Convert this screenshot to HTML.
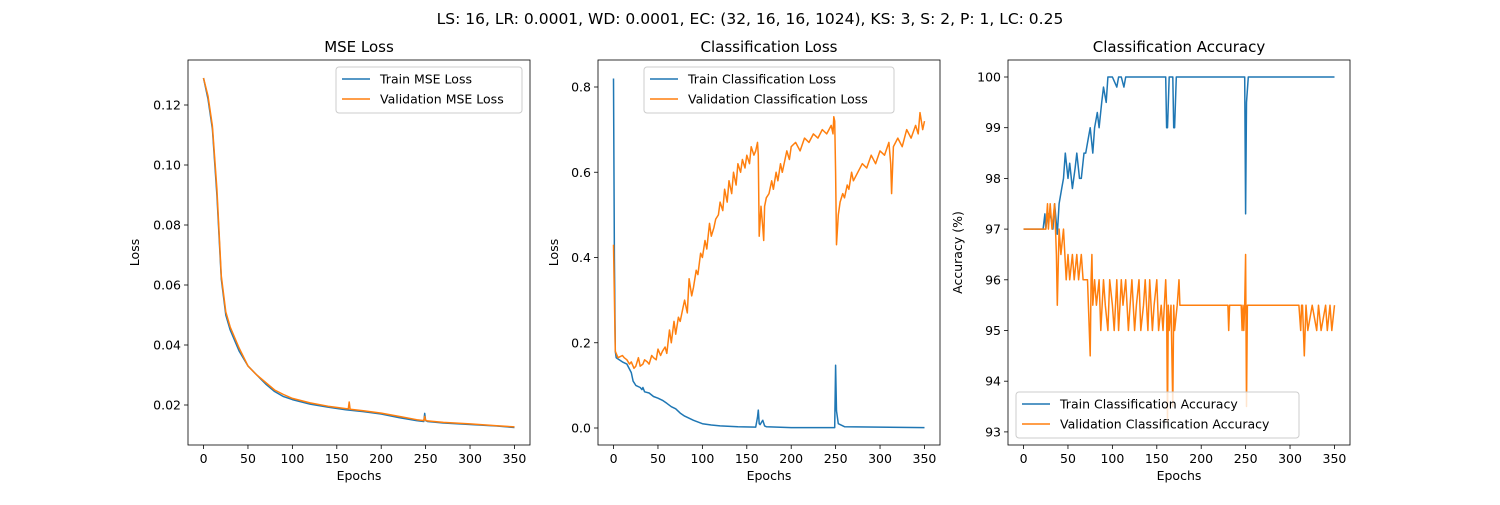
<!DOCTYPE html>
<html><head><meta charset="utf-8"><style>
body{margin:0;background:#fff;}
svg text{font-family:"DejaVu Sans","Liberation Sans",sans-serif;fill:#000;}
</style></head><body>
<svg id="c" width="1500" height="500" viewBox="0 0 1500 500">
<rect width="1500" height="500" fill="#fff"/>
<text x="750" y="24" font-size="15.5" text-anchor="middle">LS: 16, LR: 0.0001, WD: 0.0001, EC: (32, 16, 16, 1024), KS: 3, S: 2, P: 1, LC: 0.25</text>
</svg>
<script>
// MSE loss
const mseTrainEp=[0,5,10,15,20,25,30,40,50,60,70,80,90,100,120,140,160,180,200,220,240,248,249,250,252,270,300,330,350];
const mseTrain=[0.129,0.122,0.112,0.09,0.062,0.05,0.045,0.038,0.033,0.030,0.027,0.0245,0.0228,0.0218,0.0203,0.0193,0.0184,0.0178,0.0170,0.0158,0.0148,0.0145,0.0172,0.0148,0.0145,0.0140,0.0135,0.0130,0.0125];
const mseValEp=[0,5,10,15,20,25,30,40,50,60,70,80,90,100,120,140,160,163,164,165,180,200,220,240,248,249,250,252,270,300,330,350];
const mseVal=[0.129,0.123,0.113,0.092,0.063,0.051,0.046,0.039,0.033,0.030,0.0275,0.025,0.0235,0.0222,0.0207,0.0196,0.0188,0.0187,0.021,0.0186,0.0181,0.0173,0.0162,0.0151,0.0148,0.0162,0.0149,0.0147,0.0142,0.0137,0.0131,0.0127];
// classification loss
const clsTrainEp=[0,1,2,3,10,15,20,22,25,30,32,33,35,40,45,50,55,60,65,70,75,80,90,100,110,120,140,160,162,163,164,165,167,168,170,172,200,249,250,251,253,260,350];
const clsTrain=[0.82,0.4,0.18,0.165,0.155,0.15,0.13,0.11,0.1,0.095,0.09,0.095,0.085,0.082,0.074,0.07,0.065,0.058,0.05,0.045,0.035,0.028,0.018,0.01,0.007,0.005,0.003,0.002,0.025,0.042,0.01,0.008,0.015,0.018,0.005,0.003,0.001,0.001,0.147,0.04,0.01,0.003,0.001];
const clsValEp=[0,2,5,10,12,15,18,20,23,25,28,30,33,35,38,40,43,45,48,50,53,55,58,60,63,65,68,70,73,75,78,80,83,85,88,90,93,95,98,100,103,105,108,110,113,115,118,120,123,125,128,130,133,135,138,140,143,145,148,150,153,155,158,160,162,163,164,166,168,169,170,172,175,178,180,183,185,188,190,193,195,198,200,205,210,215,220,225,230,235,240,245,247,248,249,250,251,253,255,258,260,263,265,268,270,275,280,285,290,295,300,305,310,312,313,315,320,325,330,335,340,343,345,348,350];
const clsVal=[0.43,0.18,0.165,0.17,0.165,0.16,0.15,0.155,0.14,0.145,0.165,0.145,0.15,0.16,0.155,0.15,0.17,0.165,0.16,0.185,0.17,0.18,0.19,0.175,0.23,0.2,0.25,0.22,0.26,0.25,0.28,0.3,0.27,0.35,0.31,0.33,0.37,0.36,0.41,0.4,0.44,0.42,0.48,0.45,0.47,0.49,0.5,0.53,0.51,0.56,0.53,0.58,0.55,0.6,0.57,0.62,0.6,0.63,0.61,0.64,0.62,0.66,0.64,0.65,0.67,0.64,0.45,0.52,0.47,0.44,0.52,0.54,0.55,0.58,0.56,0.6,0.58,0.62,0.6,0.63,0.65,0.63,0.66,0.67,0.65,0.68,0.67,0.69,0.68,0.7,0.69,0.71,0.69,0.73,0.72,0.6,0.43,0.5,0.53,0.55,0.54,0.57,0.56,0.6,0.58,0.6,0.62,0.61,0.64,0.62,0.65,0.64,0.67,0.62,0.55,0.66,0.68,0.66,0.7,0.68,0.71,0.69,0.74,0.7,0.72];
// accuracy
const accTrainEp=[0,20,22,24,25,27,30,33,35,38,40,43,45,47,50,52,55,58,60,63,65,68,70,73,75,78,80,83,85,88,90,93,95,100,105,107,110,113,115,120,160,161,162,164,168,169,170,172,249,250,251,253,350];
const accTrain=[97,97,97,97.3,97,97.3,97.3,97,97.5,96.9,97.5,97.8,98,98.5,98,98.3,97.8,98.2,98.5,98,98,98.5,98.5,98.8,99,98.5,99,99.3,99,99.5,99.8,99.5,100,100,99.8,100,100,99.8,100,100,100,99,99,100,100,99,99,100,100,97.3,99.5,100,100];
const accValEp=[0,25,27,28,30,32,35,37,38,40,42,45,48,50,52,55,57,60,62,65,67,70,72,75,76,77,78,80,82,85,87,90,92,95,97,100,102,105,107,110,112,115,118,120,122,125,127,130,132,135,137,140,142,145,147,150,152,155,157,160,161,162,163,164,166,168,169,170,173,175,176,178,230,231,232,235,245,246,247,248,249,250,251,252,253,310,312,313,314,316,318,320,325,330,332,335,340,342,345,347,350];
const accVal=[97,97,97.5,97,97.5,97,97.5,96.5,95.5,97,96.5,97,96,96.5,96,96.5,96,96.5,96,96.5,96,96,96,94.5,96,96.5,95.5,96,95.5,96,95,96,95.5,95,96,95.5,95,96,95,96,95.5,96,95,95.5,96,95,95.5,96,95,95.5,96,95,96,95,95.5,96,95,95.5,95,96,95.5,93.2,95.5,95,95.5,93.5,95.5,95,95.5,96,95.5,95.5,95.5,95,95.5,95.5,95.5,95,95.5,95,95.5,96.5,93.5,95.5,95.5,95.5,95,95.5,95.5,94.5,95.5,95,95.5,95,95.5,95,95.5,95,95.5,95,95.5];
const xTicks=[0,50,100,150,200,250,300,350];
const y1Ticks=["0.02","0.04","0.06","0.08","0.10","0.12"];
const y2Ticks=["0.0","0.2","0.4","0.6","0.8"];
const y3Ticks=["93","94","95","96","97","98","99","100"];

const NS="http://www.w3.org/2000/svg";
const svg=document.getElementById('c');
function mk(tag,attrs,parent){const e=document.createElementNS(NS,tag);for(const k in attrs)e.setAttribute(k,attrs[k]);(parent||svg).appendChild(e);return e;}
function txt(s,x,y,attrs){const e=mk('text',Object.assign({x:x,y:y,'font-size':12.5},attrs||{}));e.textContent=s;return e;}

function panel(p){
  const g=mk('g',{});
  
  
  const L=p.left,R=p.left+342,T=60,B=445;
  const xs=v=>L+(v+17.5)*(342/385);
  const ys=v=>B-(v-p.ymin)/(p.ymax-p.ymin)*(B-T);
  const t=txt(p.title,(L+R)/2,52,{'font-size':15,'text-anchor':'middle'});
  
  
  xTicks.forEach(v=>{
    const x=xs(v);mk('line',{x1:x,x2:x,y1:B,y2:B+4,stroke:'#000','stroke-width':0.8},g);
    const tl=txt(String(v),x,B+18,{'text-anchor':'middle'});
    
    
  });
  p.yt.forEach(s=>{
    const y=ys(parseFloat(s));mk('line',{x1:L-4,x2:L,y1:y,y2:y,stroke:'#000','stroke-width':0.8},g);
    const tl=txt(s,L-7,y+4.5,{'text-anchor':'end'});
    
    
  });
  const xl=txt('Epochs',(L+R)/2,B+35,{'text-anchor':'middle'});
  
  
  const yl=txt(p.ylabel,0,0,{'text-anchor':'middle',transform:`translate(${p.ylx},${(T+B)/2}) rotate(-90)`});
  
  
  const clip='clip'+p.left;
  const cp=mk('clipPath',{id:clip},g);mk('rect',{x:L,y:T,width:R-L,height:B-T},cp);
  p.series.forEach(s=>{
    const d=s.ep.map((e,i)=>(i?'L':'M')+xs(e).toFixed(1)+','+ys(s.v[i]).toFixed(1)).join('');
    const pa=mk('path',{d:d,fill:'none',stroke:s.c,'stroke-width':1.5,'clip-path':`url(#${clip})`,'stroke-linejoin':'round'},g);
    
    
  });
  mk('rect',{x:L,y:T,width:R-L,height:B-T,fill:'none',stroke:'#000','stroke-width':0.8},g);
  const lg=mk('g',{},g);
  
  
  mk('rect',{x:p.lx,y:p.ly,width:p.lw,height:46,rx:3,fill:'#fff','fill-opacity':0.8,stroke:'#ccc'},lg);
  p.series.forEach((s,i)=>{
    const y=p.ly+12+i*20;
    mk('line',{x1:p.lx+6,x2:p.lx+34,y1:y,y2:y,stroke:s.c,'stroke-width':1.5},lg);
    const e=txt(s.label,p.lx+44,y+4.5,{});lg.appendChild(e);
    
    
  });
}
const B1='#1f77b4',O1='#ff7f0e';
panel({name:'mse-loss-panel',title:'MSE Loss',left:188,ymin:0.02-40/3000,ymax:0.02+345/3000,yt:y1Ticks,ylabel:'Loss',ylx:139,lx:336,ly:67,lw:186,
  series:[{ep:mseTrainEp,v:mseTrain,c:B1,n:'train-mse-line',label:'Train MSE Loss'},{ep:mseValEp,v:mseVal,c:O1,n:'validation-mse-line',label:'Validation MSE Loss'}]});
panel({name:'classification-loss-panel',title:'Classification Loss',left:598,ymin:-17/426.25,ymax:368/426.25,yt:y2Ticks,ylabel:'Loss',ylx:558,lx:644,ly:67,lw:250,
  series:[{ep:clsTrainEp,v:clsTrain,c:B1,n:'train-classification-loss-line',label:'Train Classification Loss'},{ep:clsValEp,v:clsVal,c:O1,n:'validation-classification-loss-line',label:'Validation Classification Loss'}]});
panel({name:'classification-accuracy-panel',title:'Classification Accuracy',left:1008,ymin:100-368/50.7,ymax:100+17/50.7,yt:y3Ticks,ylabel:'Accuracy (%)',ylx:962,lx:1016,ly:392,lw:283,
  series:[{ep:accTrainEp,v:accTrain,c:B1,n:'train-accuracy-line',label:'Train Classification Accuracy'},{ep:accValEp,v:accVal,c:O1,n:'validation-accuracy-line',label:'Validation Classification Accuracy'}]});
</script>
</body></html>
